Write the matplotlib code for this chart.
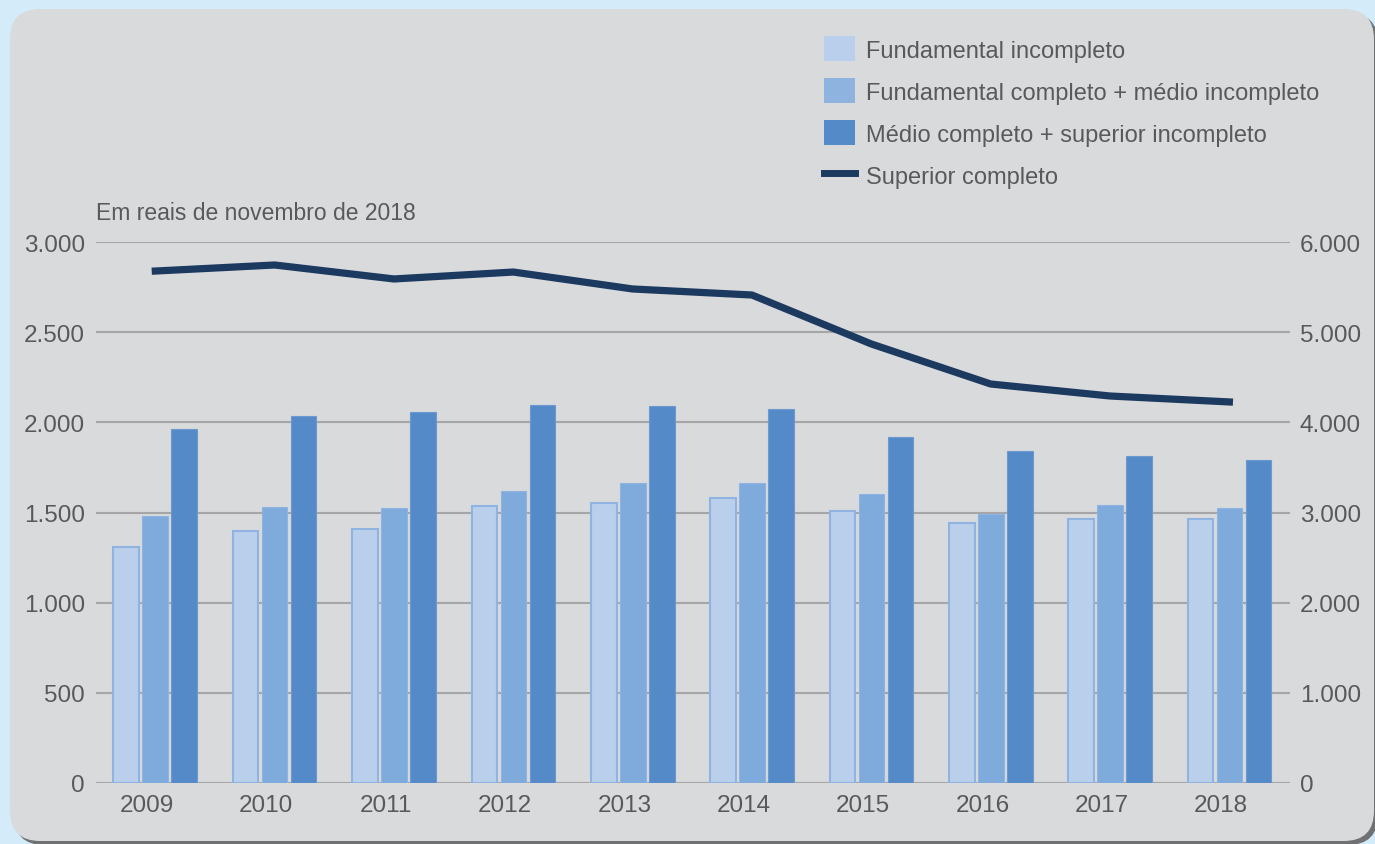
import matplotlib
matplotlib.use('Agg')
import matplotlib.pyplot as plt
from matplotlib.patches import FancyBboxPatch, Patch
from matplotlib.lines import Line2D
import numpy as np

years = ['2009', '2010', '2011', '2012', '2013', '2014', '2015', '2016', '2017', '2018']
fund_incompleto = [1309, 1397, 1411, 1534, 1551, 1579, 1506, 1444, 1463, 1463]
fund_completo = [1481, 1530, 1525, 1617, 1662, 1663, 1600, 1494, 1541, 1526]
medio_completo = [1963, 2036, 2057, 2096, 2090, 2072, 1916, 1841, 1815, 1791]
superior_completo = [5678, 5745, 5590, 5667, 5479, 5412, 4869, 4425, 4292, 4226]

labels = ['Fundamental incompleto',
          'Fundamental completo + médio incompleto',
          'Médio completo + superior incompleto',
          'Superior completo']

plt.rcParams['font.family'] = ['Liberation Sans', 'DejaVu Sans']
txt = '#595959'

fig = plt.figure(figsize=(13.75, 8.45), dpi=100)
fig.patch.set_facecolor('#d4ecf9')

# rounded grey panel with a dark shadow at the bottom right
W, H = 1375, 845
shadow = FancyBboxPatch((14 / W, -1 / H), 1364 / W, 832 / H, transform=fig.transFigure,
                        boxstyle='round,pad=0,rounding_size=0.022', facecolor='#707173',
                        edgecolor='none', zorder=-10, mutation_aspect=W / H)
panel = FancyBboxPatch((10 / W, 3 / H), 1364 / W, 832 / H, transform=fig.transFigure,
                       boxstyle='round,pad=0,rounding_size=0.022', facecolor='#d9dadc',
                       edgecolor='none', zorder=-9, mutation_aspect=W / H)
fig.patches.extend([shadow, panel])

ax = fig.add_axes([96 / W, 1 - 784 / H, (1290 - 96) / W, (784 - 243) / H])
ax.set_facecolor('none')
ax2 = ax.twinx()

x = np.arange(len(years))
xc = x + 0.07
w = 0.215
step = 0.243

ax.bar(xc - step, fund_incompleto, w, color='#b9cfeb', edgecolor='#8fb4e1', linewidth=1.5, zorder=3)
ax.bar(xc, fund_completo, w, color='#7faadc', edgecolor='#8fb4e1', linewidth=0.8, zorder=3)
ax.bar(xc + step, medio_completo, w, color='#558ac8', edgecolor='#6b9ad0', linewidth=0.8, zorder=3)
ax2.plot(xc, superior_completo, color='#1c3960', linewidth=5.2, zorder=4)

ax.set_xlim(-0.427, 9.578)
ax.set_ylim(0, 3000)
ax2.set_ylim(0, 6000)
ax.set_yticks(np.arange(0, 3001, 500))
ax.set_yticklabels(['0', '500', '1.000', '1.500', '2.000', '2.500', '3.000'])
ax2.set_yticks(np.arange(0, 6001, 1000))
ax2.set_yticklabels(['0', '1.000', '2.000', '3.000', '4.000', '5.000', '6.000'])
ax.set_xticks(x)
ax.set_xticklabels(years)

ax.grid(axis='y', color='#a6a6a6', linewidth=1.5, zorder=0)
ax.set_axisbelow(True)
for a in (ax, ax2):
    for s in a.spines.values():
        s.set_visible(False)
    a.tick_params(length=0, labelsize=17.5, colors=txt)
ax.tick_params(axis='y', pad=8)
ax2.tick_params(axis='y', pad=7)
ax.tick_params(axis='x', pad=8)

fig.text(96 / W, 1 - 213 / H, 'Em reais de novembro de 2018', fontsize=16.5, color=txt,
         va='center', ha='left')

handles = [Patch(facecolor='#b9cfeb', edgecolor='none'),
           Patch(facecolor='#8fb3df', edgecolor='none'),
           Patch(facecolor='#558ac8', edgecolor='none'),
           Line2D([0], [0], color='#1c3960', linewidth=5)]
leg = fig.legend(handles, labels, loc='upper left', bbox_to_anchor=(815 / W, 1 - 28 / H),
                 frameon=False, fontsize=17, handlelength=1.3, handleheight=1.25,
                 labelspacing=0.7, handletextpad=0.45, borderaxespad=0)
for t in leg.get_texts():
    t.set_color(txt)

fig.savefig('out.png', dpi=100, facecolor=fig.get_facecolor())
